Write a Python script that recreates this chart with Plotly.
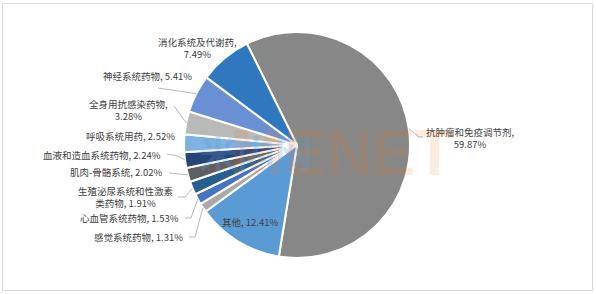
import math
import plotly.graph_objects as go

labels = ["抗肿瘤和免疫调节剂", "其他", "感觉系统药物", "心血管系统药物",
          "生殖泌尿系统和性激素类药物", "肌肉-骨骼系统", "血液和造血系统药物",
          "呼吸系统用药", "全身用抗感染药物", "神经系统药物", "消化系统及代谢药"]
values = [59.87, 12.41, 1.31, 1.53, 1.91, 2.02, 2.24, 2.52, 3.28, 5.41, 7.49]
colors = ["#878787", "#5b9bd5", "#a9a9a9", "#4472c4", "#255e91", "#5f5f5f",
          "#264478", "#7fb2e0", "#b9b9b9", "#6a8fd2", "#2f78bf"]

W, H = 596, 294
CX, CY, R = 297, 145, 113
ROT = -26.3

def px(x):
    return x / W

def py(y):
    return 1 - y / H

fig = go.Figure(go.Pie(
    labels=labels, values=values, sort=False, direction="clockwise",
    rotation=ROT, textinfo="none", hoverinfo="label+percent",
    marker=dict(colors=colors, line=dict(color="white", width=2)),
    domain=dict(x=[px(CX - R), px(CX + R)], y=[py(CY + R), py(CY - R)]),
    showlegend=False,
))

total = sum(values)
mids = []
acc = ROT
for v in values:
    a = v / total * 360
    mids.append(acc + a / 2)
    acc += a

def edge(i, r=R):
    a = math.radians(mids[i])
    return CX + r * math.sin(a), CY - r * math.cos(a)

def text_for(i, mode):
    pct = f"{values[i]:.2f}%"
    lab = labels[i]
    if mode == "wrap":
        return f"{lab},<br>{pct}"
    if mode == "split":
        return f"{lab[:10]}<br>{lab[10:]}, {pct}"
    return f"{lab}, {pct}"

# label placement: (index, x, y, xanchor, mode, leader path points or None)
placements = [
    (0, 470, 137.5, "center", "wrap", [(419, 137), (423, 137)]),
    (1, 250, 222, "center", "line", None),
    (2, 185, 237, "right", "line", [(195, 237), (189, 237)]),
    (3, 181, 217.5, "right", "line", [(191, 218), (185, 218)]),
    (4, 126, 197, "center", "split", [(185, 197), (178, 197)]),
    (5, 165, 172, "right", "line", [(169, 173)]),
    (6, 163, 155, "right", "line", [(178, 156), (167, 154)]),
    (7, 177, 136, "right", "line", None),
    (8, 128, 109.5, "center", "wrap", [(174, 106)]),
    (9, 194, 76, "right", "line", [(158, 88)]),
    (10, 197, 48, "center", "wrap", None),
]

font = dict(family="Noto Sans CJK SC, Microsoft YaHei, sans-serif", size=9.5, color="#404040")
annotations = []
shapes = []
for i, x, y, xa, mode, path in placements:
    annotations.append(dict(
        x=px(x), y=py(y), xref="paper", yref="paper", text=text_for(i, mode),
        showarrow=False, xanchor=xa, yanchor="middle", align="center",
        font=font))
    if path:
        pts = [edge(i)] + path
        for (x0, y0), (x1, y1) in zip(pts[:-1], pts[1:]):
            shapes.append(dict(type="line", xref="paper", yref="paper",
                               x0=px(x0), y0=py(y0), x1=px(x1), y1=py(y1),
                               line=dict(color="#a6a6a6", width=0.8)))

# watermark
annotations.append(dict(x=px(197), y=py(151), xref="paper", yref="paper", text="<b>米内网</b>",
                        showarrow=False, font=dict(family="Noto Sans CJK SC", size=38,
                                                   color="rgba(91,155,213,0.26)")))
annotations.append(dict(x=px(342), y=py(153), xref="paper", yref="paper", text="<b>MENET</b>",
                        showarrow=False, font=dict(family="Liberation Sans", size=64,
                                                   color="rgba(237,125,49,0.15)")))

shapes.append(dict(type="rect", xref="paper", yref="paper", x0=px(2.5), y0=py(290.5),
                   x1=px(592.5), y1=py(3.5), line=dict(color="#d9d9d9", width=1)))

fig.update_layout(width=W, height=H, margin=dict(l=0, r=0, t=0, b=0),
                  paper_bgcolor="white", plot_bgcolor="white",
                  annotations=annotations, shapes=shapes)
fig.write_html("out.html")
